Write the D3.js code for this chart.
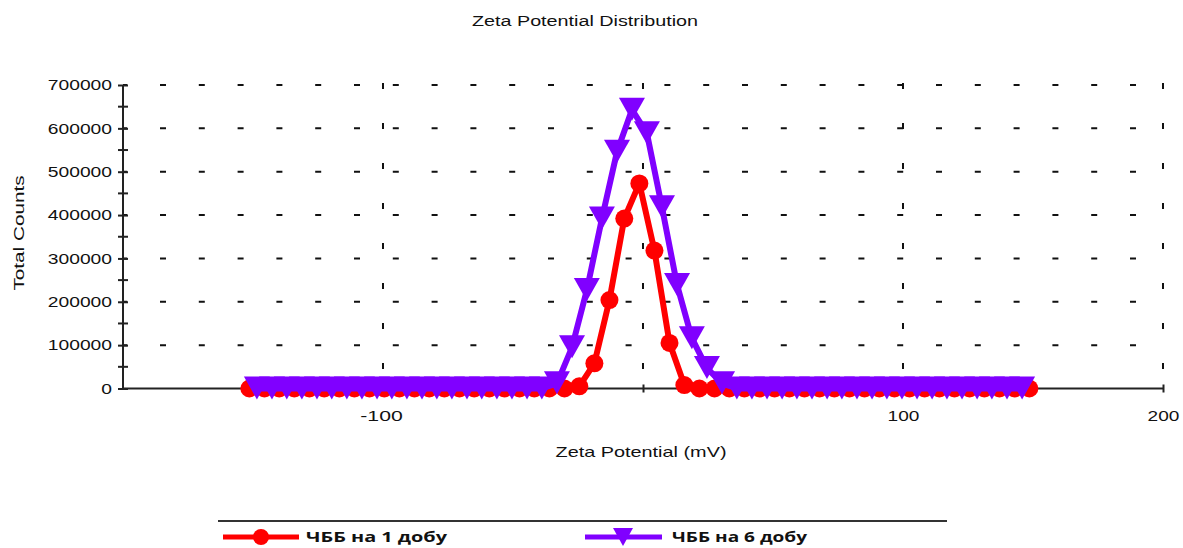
<!DOCTYPE html>
<html><head><meta charset="utf-8">
<script src="https://cdn.jsdelivr.net/npm/d3@7"></script>
<style>body{margin:0;background:#fff}svg{display:block}</style>
</head><body><svg id="c" width="1183" height="548"></svg>
<script>
// ---- data ----
const chartTitle = "Zeta Potential Distribution";
const xTitle = "Zeta Potential (mV)";
const yTitle = "Total Counts";
const seriesNames = ["ЧББ на 1 добу", "ЧББ на 6 добу"];

const redX = [-151.4,-145.6,-139.9,-134.1,-128.3,-122.6,-116.8,-111.0,-105.2,-99.5,-93.7,-87.9,-82.2,-76.4,-70.6,-64.9,-59.1,-53.3,-47.5,-41.8,-36.0,-30.2,-24.5,-18.7,-12.9,-7.2,-1.4,4.4,10.2,15.9,21.7,27.5,33.2,39.0,44.8,50.6,56.3,62.1,67.9,73.6,79.4,85.2,90.9,96.7,102.5,108.3,114.0,119.8,125.6,131.3,137.1,142.9,148.6];
const redY = [0,0,0,0,0,0,0,0,0,0,0,0,0,0,0,0,0,0,0,0,0,0,5000,58000,204000,392000,473000,318000,105000,8000,0,0,0,0,0,0,0,0,0,0,0,0,0,0,0,0,0,0,0,0,0,0,0];

const purpleX = [-148.5,-142.7,-137.0,-131.2,-125.4,-119.7,-113.9,-108.1,-102.3,-96.6,-90.8,-85.0,-79.3,-73.5,-67.7,-62.0,-56.2,-50.4,-44.6,-38.9,-33.1,-27.3,-21.6,-15.8,-10.0,-4.25,1.5,7.3,13.1,18.8,24.6,30.4,36.1,41.9,47.7,53.5,59.2,65.0,70.8,76.5,82.3,88.1,93.8,99.6,105.4,111.2,116.9,122.7,128.5,134.2,140.0,145.8];
const purpleY = [0,0,0,0,0,0,0,0,0,0,0,0,0,0,0,0,0,0,0,0,12000,95000,227000,392000,546000,643000,589000,418000,239000,116000,47000,12000,0,0,0,0,0,0,0,0,0,0,0,0,0,0,0,0,0,0,0,0];

const xDomain = [-200, 200];
const yDomain = [0, 700000];
const xTickValues = [-100, 0, 100, 200];
const xTickLabels = ["-100", "", "100", "200"];
const yTickValues = [0,100000,200000,300000,400000,500000,600000,700000];
const yTickLabels = ["0","100000","200000","300000","400000","500000","600000","700000"];
const yMinorValues = [50000,150000,250000,350000,450000,550000,650000];

// ---- drawing ----
const svg = d3.select("#c");
const L = 123, R = 1163, T = 85, B = 388.5;
const x = d3.scaleLinear().domain(xDomain).range([L, R]);
const y = d3.scaleLinear().domain(yDomain).range([B, T]);
const RED = "#ff0000", PURPLE = "#8000ff";
const FONT = "'Liberation Sans', Arial, sans-serif";

// title
svg.append("text").attr("x", 585).attr("y", 22).attr("text-anchor","middle")
  .attr("dominant-baseline","middle").attr("font-family",FONT).attr("font-size",14)
  .attr("textLength",226).attr("lengthAdjust","spacingAndGlyphs").attr("fill","#111").text(chartTitle);

// grid
const grid = svg.append("g");
grid.selectAll("line.h").data(yTickValues.filter(v => v > 0)).join("line")
  .attr("x1", L).attr("x2", R).attr("y1", d => y(d)).attr("y2", d => y(d))
  .attr("stroke","#111").attr("stroke-width",2)
  .attr("stroke-dasharray","6,32.8").attr("stroke-dashoffset",1.8);
grid.selectAll("line.v").data(xTickValues).join("line")
  .attr("x1", d => x(d)).attr("x2", d => x(d)).attr("y1", T - 2).attr("y2", B)
  .attr("stroke","#111").attr("stroke-width",2)
  .attr("stroke-dasharray","6,34");

// x axis
const xAxis = svg.append("g").attr("transform", `translate(0,${B})`)
  .call(d3.axisBottom(x).tickValues(xTickValues).tickSize(4).tickPadding(20)
        .tickFormat((d, i) => xTickLabels[i]));
xAxis.select(".domain").attr("stroke","#222").attr("stroke-width",2).attr("d", `M${L},0H${R}`);
xAxis.selectAll(".tick line").attr("y1",-4).attr("y2",4).attr("stroke","#222").attr("stroke-width",2);
xAxis.selectAll(".tick text").attr("font-family",FONT).attr("font-size",15).attr("fill","#111")
  .attr("y", 27).attr("dy", "0.35em")
  .attr("textLength", (d, i) => xTickLabels[i].length * 10.6)
  .attr("lengthAdjust","spacingAndGlyphs")
  .attr("dx", (d, i) => xTickLabels[i].startsWith("-") ? -2 : 0);

// y axis
const yAxis = svg.append("g").attr("transform", `translate(${L},0)`)
  .call(d3.axisLeft(y).tickValues(yTickValues).tickSize(5).tickPadding(6)
        .tickFormat((d, i) => yTickLabels[i]));
yAxis.select(".domain").attr("stroke","#222").attr("stroke-width",2).attr("d", `M0,${T}V${B}`);
yAxis.selectAll(".tick line").attr("x1",-5).attr("x2",5).attr("stroke","#222").attr("stroke-width",2);
yAxis.selectAll(".tick text").attr("font-family",FONT).attr("font-size",15).attr("fill","#111")
  .attr("x", -11)
  .attr("textLength", (d, i) => yTickLabels[i].length * 10.7)
  .attr("lengthAdjust","spacingAndGlyphs");
yAxis.selectAll("line.minor").data(yMinorValues).join("line").attr("class","minor")
  .attr("x1",-5).attr("x2",5).attr("y1", d => y(d)).attr("y2", d => y(d))
  .attr("stroke","#222").attr("stroke-width",2);

// axis titles
svg.append("text").attr("x", 641).attr("y", 453).attr("text-anchor","middle")
  .attr("dominant-baseline","middle").attr("font-family",FONT).attr("font-size",15)
  .attr("textLength",171).attr("lengthAdjust","spacingAndGlyphs").attr("fill","#111").text(xTitle);
svg.append("text").attr("transform","translate(20,233) rotate(-90)").attr("text-anchor","middle")
  .attr("dominant-baseline","middle").attr("font-family",FONT).attr("font-size",15)
  .attr("textLength",115).attr("lengthAdjust","spacingAndGlyphs").attr("fill","#111").text(yTitle);

// series
const triPath = "M-13,-12L13,-12L0,11Z";
const redData = redX.map((v, i) => [v, redY[i]]);
const purpleData = purpleX.map((v, i) => [v, purpleY[i]]);
const line = d3.line().x(d => x(d[0])).y(d => y(d[1]));

svg.append("path").datum(redData).attr("d", line).attr("fill","none")
  .attr("stroke",RED).attr("stroke-width",6).attr("stroke-linejoin","round");
svg.append("g").selectAll("circle").data(redData).join("circle")
  .attr("cx", d => x(d[0])).attr("cy", d => y(d[1])).attr("r", 9).attr("fill", RED);

svg.append("path").datum(purpleData).attr("d", line).attr("fill","none")
  .attr("stroke",PURPLE).attr("stroke-width",6).attr("stroke-linejoin","round");
svg.append("g").selectAll("path").data(purpleData).join("path")
  .attr("d", triPath).attr("transform", d => `translate(${x(d[0])},${y(d[1])})`).attr("fill", PURPLE);

// legend
svg.append("line").attr("x1",218).attr("x2",947).attr("y1",521).attr("y2",521)
  .attr("stroke","#333").attr("stroke-width",2);
const legendItems = [
  {name: seriesNames[0], color: RED, x0: 223, x1: 299, mx: 261, tx: 306, tl: 141, marker: "circle"},
  {name: seriesNames[1], color: PURPLE, x0: 585, x1: 662, mx: 623, tx: 672, tl: 135, marker: "tri"}
];
const lg = svg.append("g");
legendItems.forEach(it => {
  lg.append("line").attr("x1",it.x0).attr("x2",it.x1).attr("y1",537).attr("y2",537)
    .attr("stroke",it.color).attr("stroke-width",5);
  if (it.marker === "circle") {
    lg.append("circle").attr("cx",it.mx).attr("cy",537).attr("r",8).attr("fill",it.color);
  } else {
    lg.append("path").attr("d","M-10,-9L10,-9L0,9Z").attr("transform",`translate(${it.mx},537)`).attr("fill",it.color);
  }
  lg.append("text").attr("x",it.tx).attr("y",538).attr("dominant-baseline","middle")
    .attr("font-family","'Open Sans', 'Noto Sans', sans-serif").attr("font-weight","bold")
    .attr("font-size",15).attr("textLength",it.tl).attr("lengthAdjust","spacingAndGlyphs")
    .attr("fill","#111").text(it.name);
});
</script></body></html>
